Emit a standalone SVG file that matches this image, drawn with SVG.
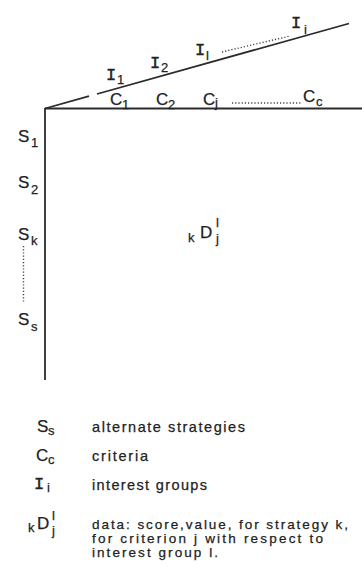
<svg xmlns="http://www.w3.org/2000/svg" width="362" height="569" viewBox="0 0 362 569">
<style>
.ax{stroke:#2b2b2b;stroke-width:1.8;fill:none}
.dot{stroke:#444;stroke-width:1.4;stroke-dasharray:1.2 2;fill:none}
text{fill:#222;stroke:#222;stroke-width:0.25;font-family:"Liberation Sans",Arial,sans-serif}
.big{font-size:17px}
.sub{font-size:13px}
.ii{font-family:"Liberation Mono","DejaVu Sans Mono",monospace;font-size:17px;stroke-width:0.4}
.leg{font-size:14.5px}
.legs{font-size:13.5px}
</style>
<rect width="362" height="569" fill="#fff"/>
<g id="connectors">
<line class="ax" x1="45" y1="108.5" x2="362" y2="108.5"/>
<line class="ax" x1="45" y1="108" x2="45" y2="380"/>
<line class="ax" x1="45" y1="108.5" x2="89" y2="96.2"/>
<line class="ax" x1="97" y1="94" x2="349" y2="23.5"/>
<line class="dot" x1="222" y1="52" x2="290" y2="36"/>
<line class="dot" x1="232" y1="103" x2="301" y2="103"/>
<line class="dot" x1="23.5" y1="246" x2="23.5" y2="303"/>
</g>
<g id="interest-groups">
<g id="I1"><text class="ii" x="106" y="80">I</text><text class="sub" x="117" y="84">1</text></g>
<g id="I2"><text class="ii" x="150" y="68">I</text><text class="sub" x="161" y="72">2</text></g>
<g id="Il"><text class="ii" x="195" y="55">I</text><text class="sub" x="206" y="60">l</text></g>
<g id="Ii"><text class="ii" x="291" y="28">I</text><text class="sub" x="304" y="34">i</text></g>
</g>
<g id="criteria">
<g id="C1"><text class="big" x="110" y="105">C</text><text class="sub" x="122" y="109">1</text></g>
<g id="C2"><text class="big" x="156" y="105">C</text><text class="sub" x="168" y="109">2</text></g>
<g id="Cj"><text class="big" x="203" y="105">C</text><text class="sub" x="215" y="107">j</text></g>
<g id="Cc"><text class="big" x="303" y="102">C</text><text class="sub" x="316" y="106">c</text></g>
</g>
<g id="strategies">
<g id="S1"><text class="big" x="18" y="142">S</text><text class="sub" x="31" y="147">1</text></g>
<g id="S2"><text class="big" x="18" y="188">S</text><text class="sub" x="31" y="194">2</text></g>
<g id="Sk"><text class="big" x="18" y="240">S</text><text class="sub" x="31" y="245">k</text></g>
<g id="Ss"><text class="big" x="18" y="325">S</text><text class="sub" x="31" y="331">s</text></g>
</g>
<g id="data">
<text class="sub" x="188" y="242" font-size="14">k</text>
<text class="big" x="200" y="238">D</text>
<text class="sub" x="216" y="227" font-size="14">l</text>
<text class="sub" x="216" y="243" font-size="14">j</text>
</g>
<g id="legend">
<g id="leg-S"><text class="big" x="37" y="432">S</text><text class="sub" x="48" y="435">s</text>
<text class="leg" x="92" y="432" textLength="153" lengthAdjust="spacing">alternate strategies</text></g>
<g id="leg-C"><text class="big" x="36" y="461">C</text><text class="sub" x="48" y="464">c</text>
<text class="leg" x="92" y="461" textLength="56" lengthAdjust="spacing">criteria</text></g>
<g id="leg-I"><text class="ii" x="34" y="489">I</text><text class="sub" x="47" y="492">i</text>
<text class="leg" x="92" y="490" textLength="115" lengthAdjust="spacing">interest groups</text></g>
<g id="leg-D"><text class="sub" x="28" y="532" font-size="14">k</text><text class="big" x="37" y="529">D</text>
<text class="sub" x="52" y="520" font-size="14">l</text><text class="sub" x="52" y="535" font-size="14">j</text>
<text class="legs" x="92" y="529" textLength="256" lengthAdjust="spacing">data: score,value, for strategy k,</text>
<text class="legs" x="92" y="543" textLength="231" lengthAdjust="spacing">for criterion j with respect to</text>
<text class="legs" x="92" y="557" textLength="126" lengthAdjust="spacing">interest group l.</text></g>
</g>
</svg>
